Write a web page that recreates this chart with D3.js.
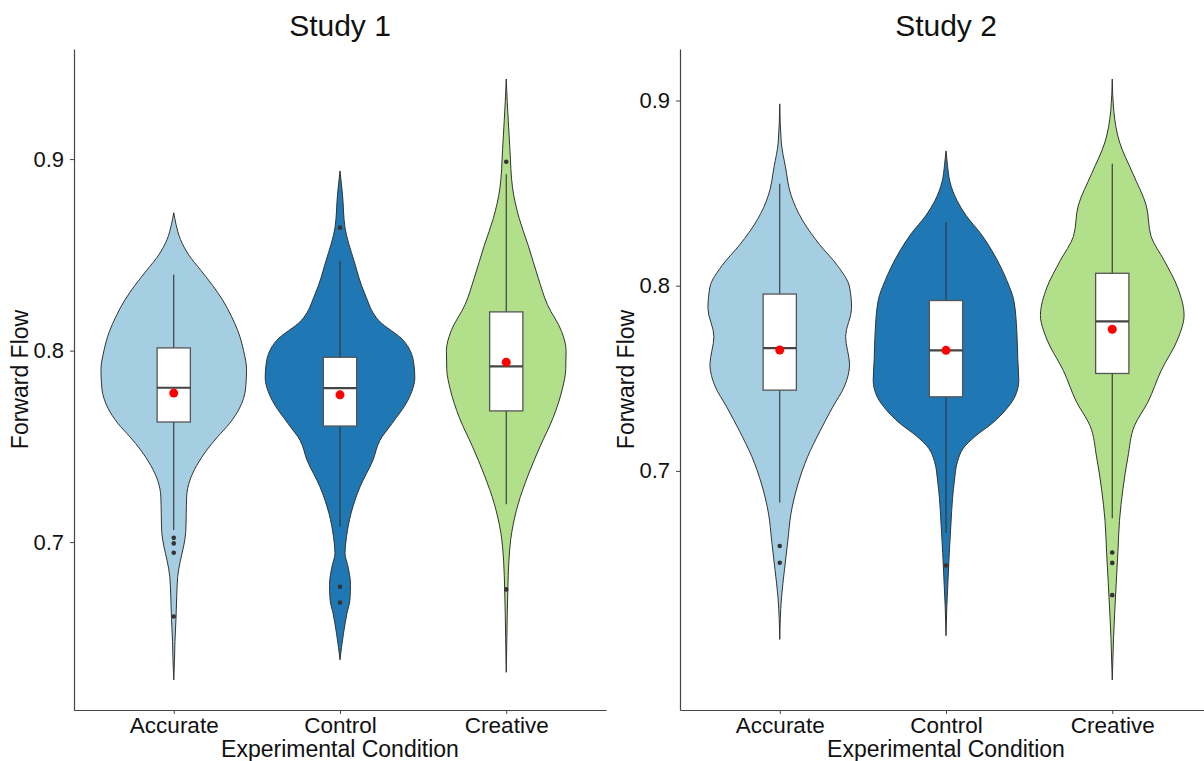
<!DOCTYPE html>
<html>
<head>
<meta charset="utf-8">
<script src="https://cdnjs.cloudflare.com/ajax/libs/d3/7.8.5/d3.min.js"></script>
<style>
  body { margin: 0; background: #fff; }
  svg { display: block; font-family: "Liberation Sans", Arial, sans-serif; }
</style>
</head>
<body>
<svg id="chart" width="1204" height="761"></svg>
<script>
var categories = ['Accurate', 'Control', 'Creative'];
var yTicks = [0.7, 0.8, 0.9];

// violin outlines: [forward flow, relative density]
var s1Accurate = [[0.628,0],[0.638,0.01],[0.648,0.016],[0.660,0.03],[0.672,0.04],[0.682,0.053],[0.690,0.087],
  [0.698,0.133],[0.705,0.16],[0.715,0.167],[0.724,0.173],[0.732,0.213],[0.740,0.307],[0.748,0.44],[0.755,0.587],
  [0.762,0.747],[0.770,0.88],[0.780,0.96],[0.790,0.973],[0.800,0.933],[0.810,0.86],[0.818,0.77],[0.826,0.66],
  [0.834,0.52],[0.842,0.36],[0.850,0.2],[0.858,0.09],[0.866,0.03],[0.872,0]];
var s1Control = [[0.6385,0],[0.645,0.02],[0.6524,0.047],[0.6628,0.093],[0.670,0.133],[0.678,0.14],[0.6872,0.107],
  [0.6941,0.067],[0.7028,0.087],[0.7149,0.147],[0.7288,0.267],[0.7427,0.44],[0.7531,0.533],[0.7618,0.693],
  [0.774,0.907],[0.7861,1.0],[0.7948,0.98],[0.8052,0.85],[0.8156,0.52],[0.8295,0.333],[0.8469,0.187],
  [0.8642,0.067],[0.8816,0.033],[0.8938,0]];
var s1Creative = [[0.632,0],[0.650,0.008],[0.662,0.013],[0.675,0.021],[0.690,0.035],[0.705,0.073],[0.720,0.16],
  [0.735,0.293],[0.750,0.453],[0.765,0.627],[0.780,0.75],[0.790,0.795],[0.800,0.8],[0.810,0.74],[0.824,0.55],
  [0.838,0.427],[0.855,0.293],[0.869,0.173],[0.885,0.084],[0.905,0.049],[0.920,0.027],[0.930,0.013],[0.9418,0]];

var s2Accurate = [[0.609,0],[0.6314,0.023],[0.6466,0.063],[0.6619,0.107],[0.6772,0.151],[0.6924,0.24],
  [0.7077,0.373],[0.7211,0.533],[0.7344,0.707],[0.7459,0.867],[0.7573,0.933],[0.7726,0.88],[0.7878,0.96],
  [0.7993,0.933],[0.8108,0.773],[0.8222,0.533],[0.8356,0.3],[0.8489,0.151],[0.8642,0.076],[0.8776,0.02],[0.8982,0]];
var s2Control = [[0.611,0],[0.627,0.011],[0.641,0.027],[0.656,0.044],[0.672,0.067],[0.685,0.087],[0.695,0.113],
  [0.705,0.153],[0.712,0.227],[0.719,0.4],[0.726,0.627],[0.733,0.8],[0.740,0.92],[0.749,0.973],[0.760,0.96],
  [0.775,0.947],[0.792,0.907],[0.8028,0.813],[0.810,0.733],[0.819,0.613],[0.828,0.467],[0.838,0.267],
  [0.846,0.147],[0.856,0.053],[0.865,0.02],[0.8728,0]];
var s2Creative = [[0.5871,0],[0.6095,0.017],[0.6222,0.031],[0.6393,0.053],[0.6563,0.076],[0.6733,0.097],
  [0.6903,0.143],[0.7074,0.209],[0.7244,0.297],[0.7371,0.476],[0.7541,0.653],[0.7712,0.876],[0.784,0.96],
  [0.7988,0.876],[0.8137,0.693],[0.8265,0.52],[0.8435,0.453],[0.8605,0.276],[0.8776,0.097],[0.8946,0.02],[0.9116,0]];

// box plot stats per category
var s1Lower  = [0.7063, 0.708, 0.7198];
var s1Q1     = [0.7627, 0.7606, 0.7685];
var s1Median = [0.7806, 0.7804, 0.7918];
var s1Q3     = [0.8014, 0.7965, 0.8202];
var s1Upper  = [0.8396, 0.8469, 0.8921];
var s1Mean   = [0.7778, 0.7769, 0.7939];
var s1Outliers = [[0.7022, 0.6993, 0.6944, 0.6611], [0.8642, 0.6767, 0.6684], [0.8986, 0.6753]];

var s2Lower  = [0.6829, 0.6665, 0.6744];
var s2Q1     = [0.7436, 0.74, 0.7526];
var s2Median = [0.7663, 0.7651, 0.7807];
var s2Q3     = [0.7955, 0.792, 0.8067];
var s2Upper  = [0.8551, 0.8342, 0.8658];
var s2Mean   = [0.7653, 0.7651, 0.7765];
var s2Outliers = [[0.6594, 0.6504], [0.6489], [0.6559, 0.6503, 0.6329]];

var fills = ['#A6CEE3', '#1F78B4', '#B2DF8A'];

var studies = [
  { title: 'Study 1', violins: [s1Accurate, s1Control, s1Creative], lower: s1Lower, q1: s1Q1,
    median: s1Median, q3: s1Q3, upper: s1Upper, mean: s1Mean, outliers: s1Outliers },
  { title: 'Study 2', violins: [s2Accurate, s2Control, s2Creative], lower: s2Lower, q1: s2Q1,
    median: s2Median, q3: s2Q3, upper: s2Upper, mean: s2Mean, outliers: s2Outliers }
];

var svg = d3.select('#chart');
var padding = { t: 49, l: 74, b: 51 };
var plotWidth = 532;
var panelShift = 606;
var plotTop = padding.t;
var plotBottom = +svg.attr('height') - padding.b;

function drawPanel(study, idx) {
  var left = padding.l + idx * panelShift;
  var x = d3.scalePoint().domain(categories).range([left, left + plotWidth]).padding(0.6);
  var vals = study.violins.flat().map(d => d[0]);
  var lo = d3.min(vals), hi = d3.max(vals), ex = (hi - lo) * 0.05;
  var y = d3.scaleLinear().domain([lo - ex, hi + ex]).range([plotBottom, plotTop]);
  var w = d3.scaleLinear().domain([0, 1]).range([0, x.step() * 0.45]);
  var boxHalf = x.step() * 0.1;

  var g = svg.append('g');

  categories.forEach(function(cat, i) {
    var cx = x(cat);
    var area = d3.area()
      .y(d => y(d[0]))
      .x0(d => cx - w(d[1]))
      .x1(d => cx + w(d[1]))
      .curve(d3.curveMonotoneY);
    g.append('path')
      .datum(study.violins[i])
      .attr('d', area)
      .attr('fill', fills[i])
      .attr('stroke', '#333')
      .attr('stroke-width', 1);

    // whiskers
    g.append('line')
      .attr('x1', cx).attr('x2', cx)
      .attr('y1', y(study.upper[i])).attr('y2', y(study.q3[i]))
      .attr('stroke', '#333').attr('stroke-width', 1.1);
    g.append('line')
      .attr('x1', cx).attr('x2', cx)
      .attr('y1', y(study.q1[i])).attr('y2', y(study.lower[i]))
      .attr('stroke', '#333').attr('stroke-width', 1.1);

    g.append('rect')
      .attr('x', cx - boxHalf)
      .attr('y', y(study.q3[i]))
      .attr('width', boxHalf * 2)
      .attr('height', y(study.q1[i]) - y(study.q3[i]))
      .attr('fill', '#fff')
      .attr('stroke', '#555')
      .attr('stroke-width', 1.3);
    g.append('line')
      .attr('x1', cx - boxHalf).attr('x2', cx + boxHalf)
      .attr('y1', y(study.median[i])).attr('y2', y(study.median[i]))
      .attr('stroke', '#444').attr('stroke-width', 2.2);

    g.selectAll(null)
      .data(study.outliers[i])
      .enter()
      .append('circle')
      .attr('cx', cx)
      .attr('cy', d => y(d))
      .attr('r', 2.3)
      .attr('fill', '#333');

    g.append('circle')
      .attr('cx', cx)
      .attr('cy', y(study.mean[i]))
      .attr('r', 4.5)
      .attr('fill', '#ff0000');
  });

  var xAxisG = svg.append('g')
    .attr('transform', 'translate(0,' + plotBottom + ')')
    .call(d3.axisBottom(x).tickSize(4).tickSizeOuter(0).tickPadding(3));
  var yAxisG = svg.append('g')
    .attr('transform', 'translate(' + left + ',0)')
    .call(d3.axisLeft(y).tickValues(yTicks).tickFormat(d3.format('.1f'))
      .tickSize(4).tickSizeOuter(0).tickPadding(6));

  [xAxisG, yAxisG].forEach(function(a) {
    a.attr('font-family', null).attr('font-size', null);
    a.select('.domain').attr('stroke', '#444').attr('stroke-width', 1.2);
    a.selectAll('.tick line').attr('stroke', '#444').attr('stroke-width', 1);
    a.selectAll('.tick text').attr('fill', '#111');
  });
  xAxisG.selectAll('.tick text').style('font-size', '22.5px');
  yAxisG.selectAll('.tick text').style('font-size', '22px');

  var mid = left + plotWidth / 2;
  svg.append('text')
    .attr('x', mid).attr('y', 36)
    .attr('text-anchor', 'middle')
    .style('font-size', '30px')
    .attr('fill', '#111')
    .text(study.title);
  svg.append('text')
    .attr('x', mid).attr('y', 757)
    .attr('text-anchor', 'middle')
    .style('font-size', '23px')
    .attr('fill', '#111')
    .text('Experimental Condition');
  svg.append('text')
    .attr('transform', 'translate(' + (left - 46) + ',' + ((plotTop + plotBottom) / 2) + ') rotate(-90)')
    .attr('text-anchor', 'middle')
    .style('font-size', '23px')
    .attr('fill', '#111')
    .text('Forward Flow');
}

studies.forEach(drawPanel);
</script>
</body>
</html>
